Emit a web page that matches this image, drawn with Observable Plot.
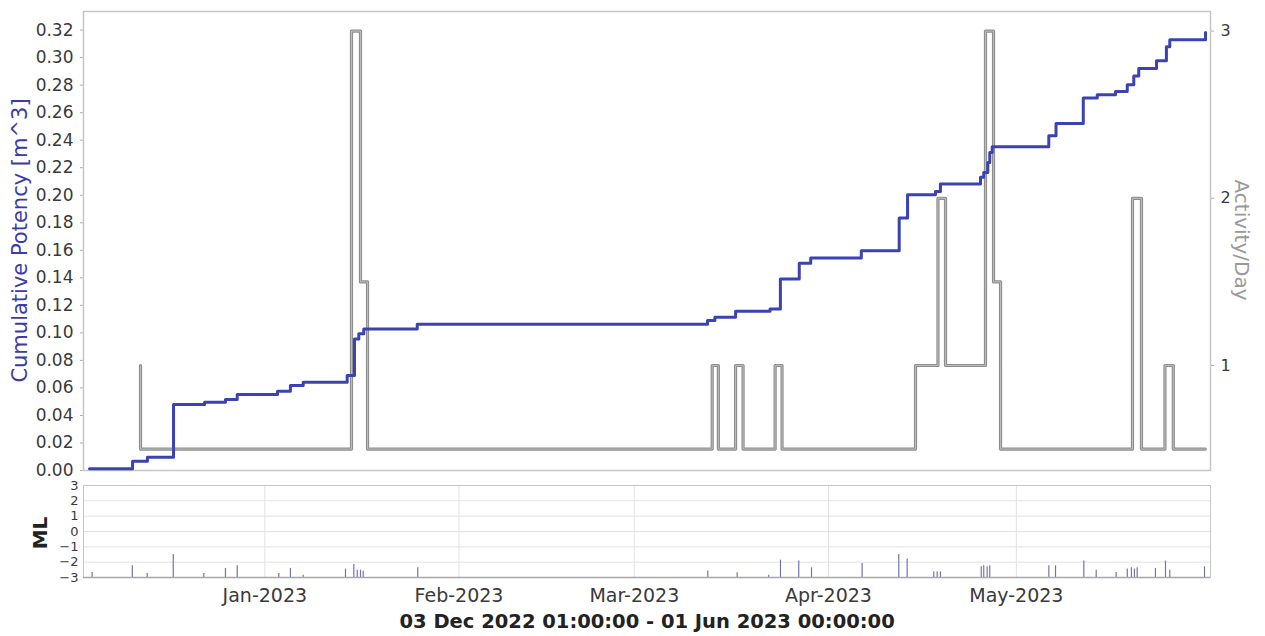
<!DOCTYPE html>
<html><head><meta charset="utf-8">
<script src="https://cdn.jsdelivr.net/npm/d3@7"></script>
<script src="https://cdn.jsdelivr.net/npm/@observablehq/plot@0.6"></script>
<style>
body{margin:0;background:#fff;font-family:"DejaVu Sans",sans-serif;}
#wrap{position:relative;width:1265px;height:636px;overflow:hidden;background:#fff}
#wrap svg{display:block}
.lbl{position:absolute;white-space:nowrap;transform-origin:center center;line-height:1}
</style></head><body><div id="wrap"></div>
<script>
// ---- data ----
const potencyDates = ["2022-12-04T00:00","2022-12-10T21:00","2022-12-13T06:00","2022-12-17T10:00","2022-12-22T09:00","2022-12-25T17:00","2022-12-27T14:00","2023-01-03T00:30","2023-01-05T02:00","2023-01-07T03:00","2023-01-14T03:30","2023-01-15T07:30","2023-01-16T00:00","2023-01-16T19:00","2023-01-25T08:00","2023-03-12T16:20","2023-03-13T20:40","2023-03-17T04:00","2023-03-22T16:00","2023-03-24T07:40","2023-03-27T08:00","2023-03-29T04:00","2023-04-06T05:45","2023-04-12T07:00","2023-04-13T15:00","2023-04-18T02:00","2023-04-18T21:00","2023-04-25T06:30","2023-04-25T19:00","2023-04-26T10:30","2023-04-26T18:00","2023-04-27T03:30","2023-05-06T04:20","2023-05-07T08:00","2023-05-11T16:30","2023-05-13T22:00","2023-05-16T20:00","2023-05-18T17:00","2023-05-19T18:00","2023-05-20T13:00","2023-05-23T09:00","2023-05-24T23:00","2023-05-25T12:00","2023-05-31T05:00"];
const potencyValues = [0.0012,0.0068,0.0097,0.0479,0.0496,0.0516,0.0552,0.0576,0.0617,0.0641,0.0690,0.0956,0.0993,0.1029,0.1062,0.1089,0.1113,0.1157,0.1174,0.1392,0.1505,0.1544,0.1597,0.1835,0.2004,0.2028,0.2082,0.2130,0.2166,0.2238,0.2310,0.2352,0.2433,0.2522,0.2706,0.2730,0.2754,0.2802,0.2867,0.2920,0.2977,0.3078,0.3129,0.3182];

const activityDates = ["2022-12-12T03:30","2022-12-12T03:30","2023-01-14T20:00","2023-01-16T06:30","2023-01-17T09:30","2023-03-13T10:20","2023-03-14T10:00","2023-03-17T04:00","2023-03-18T08:40","2023-03-23T11:30","2023-03-24T14:00","2023-04-14T21:30","2023-04-18T11:30","2023-04-19T16:30","2023-04-26T01:40","2023-04-27T08:30","2023-04-28T11:20","2023-05-19T13:00","2023-05-20T23:30","2023-05-24T17:30","2023-05-26T01:30","2023-05-31T04:00"];
const activityValues = [1,0.5,3,1.5,0.5,1,0.5,1,0.5,1,0.5,1,2,1,3,1.5,0.5,2,0.5,1,0.5,0.5];

const mlDates = ["2022-12-04T10:00","2022-12-10T20:00","2022-12-13T05:00","2022-12-17T09:00","2022-12-22T06:00","2022-12-25T17:00","2022-12-27T14:00","2023-01-03T05:30","2023-01-05T02:00","2023-01-07T03:00","2023-01-13T21:00","2023-01-15T05:00","2023-01-15T18:00","2023-01-16T06:30","2023-01-16T17:00","2023-01-25T10:00","2023-03-12T17:30","2023-03-17T10:00","2023-03-22T11:00","2023-03-24T08:00","2023-03-27T06:00","2023-03-29T07:00","2023-04-06T09:00","2023-04-12T05:30","2023-04-13T13:30","2023-04-17T19:30","2023-04-18T08:30","2023-04-18T21:00","2023-04-25T09:30","2023-04-25T19:00","2023-04-26T08:00","2023-04-26T18:00","2023-05-06T04:30","2023-05-07T06:00","2023-05-11T18:30","2023-05-13T18:00","2023-05-16T22:30","2023-05-18T17:00","2023-05-19T09:00","2023-05-19T20:30","2023-05-20T07:00","2023-05-23T05:00","2023-05-24T19:30","2023-05-25T12:00","2023-05-31T01:00"];
const mlValues = [-2.67,-2.24,-2.74,-1.5,-2.74,-2.41,-2.24,-2.74,-2.41,-2.85,-2.45,-2.15,-2.52,-2.52,-2.6,-2.37,-2.58,-2.69,-2.85,-1.87,-1.93,-2.37,-2.09,-1.5,-1.8,-2.63,-2.63,-2.63,-2.3,-2.24,-2.3,-2.24,-2.24,-2.24,-1.93,-2.52,-2.67,-2.45,-2.37,-2.45,-2.37,-2.41,-1.93,-2.52,-2.3];

const monthTicks = ["2023-01-01T00:00","2023-02-01T00:00","2023-03-01T00:00","2023-04-01T00:00","2023-05-01T00:00"];
const monthLabels = ["Jan-2023","Feb-2023","Mar-2023","Apr-2023","May-2023"];
const potencyTicks = [0,0.02,0.04,0.06,0.08,0.10,0.12,0.14,0.16,0.18,0.20,0.22,0.24,0.26,0.28,0.30,0.32];
const activityTicks = [1,2,3];
const mlTicks = [-3,-2,-1,0,1,2,3];
const rangeStart = "2022-12-03T01:00", rangeEnd = "2023-06-01T00:00";
const rangeTitle = "03 Dec 2022 01:00:00 - 01 Jun 2023 00:00:00";
const leftLabel = "Cumulative Potency [m^3]", rightLabel = "Activity/Day", mlLabel = "ML";

// ---- layout ----
const xDomain = [new Date(rangeStart), new Date(rangeEnd)];
const yTop = 0.3335;
const A0 = 0.372, A1 = 3.117;            // activity axis extent over the same frame
const toLeft = a => (a - A0) / (A1 - A0) * yTop;
const fromLeft = v => v / yTop * (A1 - A0) + A0;

const potency = potencyDates.map((d, i) => ({t: new Date(d), v: potencyValues[i]}));
const activity = activityDates.map((d, i) => ({t: new Date(d), v: toLeft(activityValues[i])}));
const ml = mlDates.map((d, i) => ({t: new Date(d), v: mlValues[i]}));
const months = monthTicks.map(d => new Date(d));

const textColor = "#3a3a3a";

const topPlot = Plot.plot({
  width: 1265, height: 472,
  marginTop: 11, marginBottom: 2, marginLeft: 83, marginRight: 55,
  x: {domain: xDomain, axis: null},
  y: {domain: [0, yTop], axis: null},
  style: {fontFamily: "DejaVu Sans", background: "white", overflow: "visible"},
  marks: [
    Plot.frame({stroke: "#c6c6c6", strokeWidth: 1.5}),
    Plot.axisY(potencyTicks, {anchor: "left", tickSize: 3, tickPadding: 7, fontSize: 17,
      tickFormat: d => d.toFixed(2), stroke: "#b0b0b0", fill: textColor, label: null}),
    Plot.axisY(activityTicks.map(toLeft), {anchor: "right", tickSize: 3, tickPadding: 7, fontSize: 16,
      tickFormat: d => String(Math.round(fromLeft(d))), stroke: "#b0b0b0", fill: textColor, label: null}),
    Plot.line(activity, {x: "t", y: "v", curve: "step-after", stroke: "#8e8e8e", strokeWidth: 3.2}),
    Plot.line(activity, {x: "t", y: "v", curve: "step-after", stroke: "#bdbdbd", strokeWidth: 1}),
    Plot.line(potency, {x: "t", y: "v", curve: "step-after", stroke: "#3b43b3", strokeWidth: 3})
  ]
});

const bottomPlot = Plot.plot({
  width: 1265, height: 164,
  marginTop: 13, marginBottom: 59, marginLeft: 83, marginRight: 55,
  x: {domain: xDomain, axis: null},
  y: {domain: [-3, 3], axis: null},
  style: {fontFamily: "DejaVu Sans", background: "white", overflow: "visible"},
  marks: [
    Plot.gridY(mlTicks, {stroke: "#e2e2e2", strokeOpacity: 1}),
    Plot.gridX(months, {stroke: "#e2e2e2", strokeOpacity: 1}),
    Plot.frame({stroke: "#c6c6c6"}),
    Plot.ruleX(ml, {x: "t", y1: -3, y2: "v", stroke: "#7474b0", strokeWidth: 1.2}),
    Plot.ruleY([-3], {stroke: "#a8a8a8", strokeWidth: 1.5}),
    Plot.axisY(mlTicks, {anchor: "left", tickSize: 0, tickPadding: 5, fontSize: 13, fill: textColor, label: null}),
    Plot.axisX(months, {anchor: "bottom", tickSize: 0, tickPadding: 11, fontSize: 19, fill: textColor,
      tickFormat: d => monthLabels[months.findIndex(m => +m === +d)], label: null})
  ]
});

const wrap = document.getElementById("wrap");
wrap.appendChild(topPlot);
wrap.appendChild(bottomPlot);

function addLabel(text, cx, cy, rot, css) {
  const s = document.createElement("div");
  s.className = "lbl";
  s.textContent = text;
  Object.assign(s.style, css);
  wrap.appendChild(s);
  const w = s.offsetWidth, h = s.offsetHeight;
  s.style.left = (cx - w / 2) + "px";
  s.style.top = (cy - h / 2) + "px";
  s.style.transform = `rotate(${rot}deg)`;
}
addLabel(leftLabel, 20, 240, -90, {fontSize: "21px", color: "#3c3ca8"});
addLabel(rightLabel, 1241, 240, 90, {fontSize: "20px", color: "#9a9a9a"});
addLabel(mlLabel, 40, 533, -90, {fontSize: "20px", fontWeight: "bold", color: "#222"});
addLabel(rangeTitle, 647, 622, 0, {fontSize: "19.5px", fontWeight: "bold", color: "#222"});
</script>
</body></html>
